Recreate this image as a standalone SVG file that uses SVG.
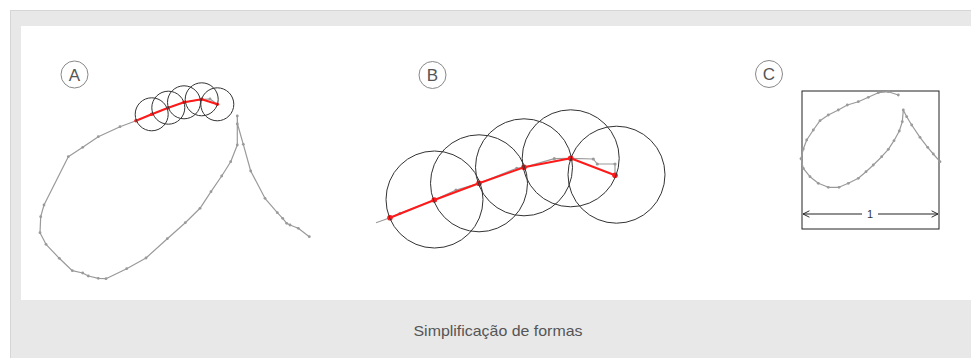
<svg xmlns="http://www.w3.org/2000/svg" width="971" height="358" viewBox="0 0 971 358">
<style>
.curve{fill:none;stroke:#9a9a9a;stroke-width:1.2;stroke-linejoin:round}
.dot{fill:#9a9a9a}
.circ{fill:none;stroke:#333;stroke-width:1}
.red{fill:none;stroke:#ff1a1a;stroke-width:2;stroke-linejoin:round}
.rdot{fill:#ff1a1a}
.lab{fill:none;stroke:#888;stroke-width:1}
.labt{font-family:"Liberation Sans",Arial,sans-serif;font-size:17px;fill:#555;text-anchor:middle}
.cap{font-family:"Liberation Sans",Arial,sans-serif;font-size:15px;fill:#555;text-anchor:middle}
.dim{font-family:"Liberation Sans",Arial,sans-serif;font-size:11px;fill:#333;text-anchor:middle}
</style>
<defs>
<marker id="arr" viewBox="0 0 10 10" refX="9" refY="5" markerWidth="8" markerHeight="8" orient="auto-start-reverse" markerUnits="userSpaceOnUse">
<path d="M1,1 L9,5 L1,9" fill="none" stroke="#222" stroke-width="1.2"/>
</marker>
</defs>
<rect x="10.5" y="10.5" width="961" height="348" fill="#e8e8e8" stroke="#d6d6d6"/>
<rect x="21" y="26" width="950" height="274" fill="#ffffff"/>
<text class="cap" x="498" y="336" textLength="169" lengthAdjust="spacingAndGlyphs">Simplificação de formas</text>

<g id="panelA">
<circle class="lab" cx="74.5" cy="74.5" r="13.5"/>
<text class="labt" x="74.5" y="80.5">A</text>
<polyline class="curve" points="217,104 210,99 201.7,99.3 184,102.3 168.3,107.7 151.7,114.3 136,120.7 120,126.7 98.3,136.7 82.7,147.3 68.3,156.7 44,205 40.7,216.7 40,232.7 46,244.3 59.3,258.3 72.3,270.7 82.7,273 88.3,276 98.3,278.3 106,278.7 126.7,268.7 146,258 167.3,238.7 185.3,222.7 200,208.3 211,191.7 221.7,176 230.7,161.7 237.3,145 237.3,124 237.3,116 237.5,124 243.3,144.3 250.7,171 265,198.3 277.3,212.7 282.7,218.3 286.7,223.3 290,225 298.3,228.3 309.3,236.7"/>
<g class="dot">
<circle cx="210" cy="99" r="1.4"/><circle cx="120" cy="126.7" r="1.4"/><circle cx="98.3" cy="136.7" r="1.4"/><circle cx="82.7" cy="147.3" r="1.4"/><circle cx="68.3" cy="156.7" r="1.4"/><circle cx="44" cy="205" r="1.4"/><circle cx="40.7" cy="216.7" r="1.4"/><circle cx="40" cy="232.7" r="1.4"/><circle cx="46" cy="244.3" r="1.4"/><circle cx="59.3" cy="258.3" r="1.4"/><circle cx="72.3" cy="270.7" r="1.4"/><circle cx="82.7" cy="273" r="1.4"/><circle cx="88.3" cy="276" r="1.4"/><circle cx="98.3" cy="278.3" r="1.4"/><circle cx="106" cy="278.7" r="1.4"/><circle cx="126.7" cy="268.7" r="1.4"/><circle cx="146" cy="258" r="1.4"/><circle cx="167.3" cy="238.7" r="1.4"/><circle cx="185.3" cy="222.7" r="1.4"/><circle cx="200" cy="208.3" r="1.4"/><circle cx="211" cy="191.7" r="1.4"/><circle cx="221.7" cy="176" r="1.4"/><circle cx="230.7" cy="161.7" r="1.4"/><circle cx="237.3" cy="145" r="1.4"/><circle cx="237.3" cy="124" r="1.4"/><circle cx="237.3" cy="116" r="1.4"/><circle cx="243.3" cy="144.3" r="1.4"/><circle cx="250.7" cy="171" r="1.4"/><circle cx="265" cy="198.3" r="1.4"/><circle cx="277.3" cy="212.7" r="1.4"/><circle cx="282.7" cy="218.3" r="1.4"/><circle cx="286.7" cy="223.3" r="1.4"/><circle cx="290" cy="225" r="1.4"/><circle cx="298.3" cy="228.3" r="1.4"/><circle cx="309.3" cy="236.7" r="1.4"/>
</g>
<polyline class="red" points="136,120.7 151.7,114.3 168.3,107.7 184,102.3 201.7,99.3 217.3,104.3"/>
<g class="rdot">
<circle cx="136" cy="120.7" r="1.8"/><circle cx="151.7" cy="114.3" r="1.8"/><circle cx="168.3" cy="107.7" r="1.8"/><circle cx="184" cy="102.3" r="1.8"/><circle cx="201.7" cy="99.3" r="1.8"/><circle cx="217.3" cy="104.3" r="1.8"/>
</g>
<circle class="circ" cx="151.7" cy="114.3" r="16.5"/>
<circle class="circ" cx="168.3" cy="107.7" r="16.5"/>
<circle class="circ" cx="184" cy="102.3" r="16.5"/>
<circle class="circ" cx="201.7" cy="99.3" r="16.5"/>
<circle class="circ" cx="217.3" cy="104.3" r="16.5"/>
</g>

<g id="panelB">
<circle class="lab" cx="432.5" cy="75" r="13.5"/>
<text class="labt" x="432.5" y="81">B</text>
<polyline class="curve" points="376,222.7 390,217.7 400,213.3 434.3,200 456,190 479,183.3 516.7,168.3 524,167.3 554.3,158.7 570.7,158.3 593.3,159 597.3,164 615,164 615,175.3"/>
<g class="dot">
<circle cx="400" cy="213.3" r="1.6"/><circle cx="456" cy="190" r="1.6"/><circle cx="516.7" cy="168.3" r="1.6"/><circle cx="554.3" cy="158.7" r="1.6"/><circle cx="593.3" cy="159" r="1.6"/><circle cx="597.3" cy="164" r="1.6"/><circle cx="615" cy="164" r="1.6"/>
</g>
<polyline class="red" points="390,217.7 434.3,200 479,183.3 524,167.3 570.7,158.3 615,175.3"/>
<g class="rdot">
<circle cx="390" cy="217.7" r="2.8"/><circle cx="434.3" cy="200" r="2.8"/><circle cx="479" cy="183.3" r="2.8"/><circle cx="524" cy="167.3" r="2.8"/><circle cx="570.7" cy="158.3" r="2.8"/><circle cx="615" cy="175.3" r="2.8"/>
</g>
<circle class="circ" cx="434.5" cy="199.5" r="48.5"/>
<circle class="circ" cx="479" cy="183.3" r="48.5"/>
<circle class="circ" cx="524" cy="167.3" r="48.5"/>
<circle class="circ" cx="570.7" cy="158.3" r="48.5"/>
<circle class="circ" cx="616.5" cy="174.7" r="48.5"/>
</g>

<g id="panelC">
<circle class="lab" cx="769" cy="74" r="13.5"/>
<text class="labt" x="769" y="80">C</text>
<rect x="802" y="91" width="137" height="138" fill="none" stroke="#222" stroke-width="1"/>
<polyline class="curve" points="898.3,95 888.3,91.7 878.3,92.7 868.3,97.3 858.3,101.7 847.3,105 838.3,110 828.3,115 820,120.7 813.3,130 806.7,140 803.3,149 801,158.7 803.3,168.3 810,176.7 818.3,183.3 828.3,187.3 839,187.3 848.3,183.3 858.3,178.3 866,171.7 873.3,165 881.7,156.7 888.3,149.3 894,140.7 899.3,131 902.3,121.7 903.3,110 906.7,116.7 911.7,125 920,137.3 927.7,147.3 933.3,154 940,161.7"/>
<g class="dot">
<circle cx="898.3" cy="95" r="1.4"/><circle cx="888.3" cy="91.7" r="1.4"/><circle cx="878.3" cy="92.7" r="1.4"/><circle cx="868.3" cy="97.3" r="1.4"/><circle cx="858.3" cy="101.7" r="1.4"/><circle cx="847.3" cy="105" r="1.4"/><circle cx="838.3" cy="110" r="1.4"/><circle cx="828.3" cy="115" r="1.4"/><circle cx="820" cy="120.7" r="1.4"/><circle cx="813.3" cy="130" r="1.4"/><circle cx="806.7" cy="140" r="1.4"/><circle cx="803.3" cy="149" r="1.4"/><circle cx="801" cy="158.7" r="1.4"/><circle cx="803.3" cy="168.3" r="1.4"/><circle cx="810" cy="176.7" r="1.4"/><circle cx="818.3" cy="183.3" r="1.4"/><circle cx="828.3" cy="187.3" r="1.4"/><circle cx="839" cy="187.3" r="1.4"/><circle cx="848.3" cy="183.3" r="1.4"/><circle cx="858.3" cy="178.3" r="1.4"/><circle cx="866" cy="171.7" r="1.4"/><circle cx="873.3" cy="165" r="1.4"/><circle cx="881.7" cy="156.7" r="1.4"/><circle cx="888.3" cy="149.3" r="1.4"/><circle cx="894" cy="140.7" r="1.4"/><circle cx="899.3" cy="131" r="1.4"/><circle cx="902.3" cy="121.7" r="1.4"/><circle cx="903.3" cy="110" r="1.4"/><circle cx="906.7" cy="116.7" r="1.4"/><circle cx="911.7" cy="125" r="1.4"/><circle cx="920" cy="137.3" r="1.4"/><circle cx="927.7" cy="147.3" r="1.4"/><circle cx="933.3" cy="154" r="1.4"/><circle cx="940" cy="161.7" r="1.4"/>
</g>
<g id="dimension">
<line x1="862" y1="214" x2="803" y2="214" stroke="#222" stroke-width="1" marker-end="url(#arr)"/>
<line x1="878" y1="214" x2="938" y2="214" stroke="#222" stroke-width="1" marker-end="url(#arr)"/>
<text class="dim" x="870" y="218">1</text>
</g>
</g>
</svg>
